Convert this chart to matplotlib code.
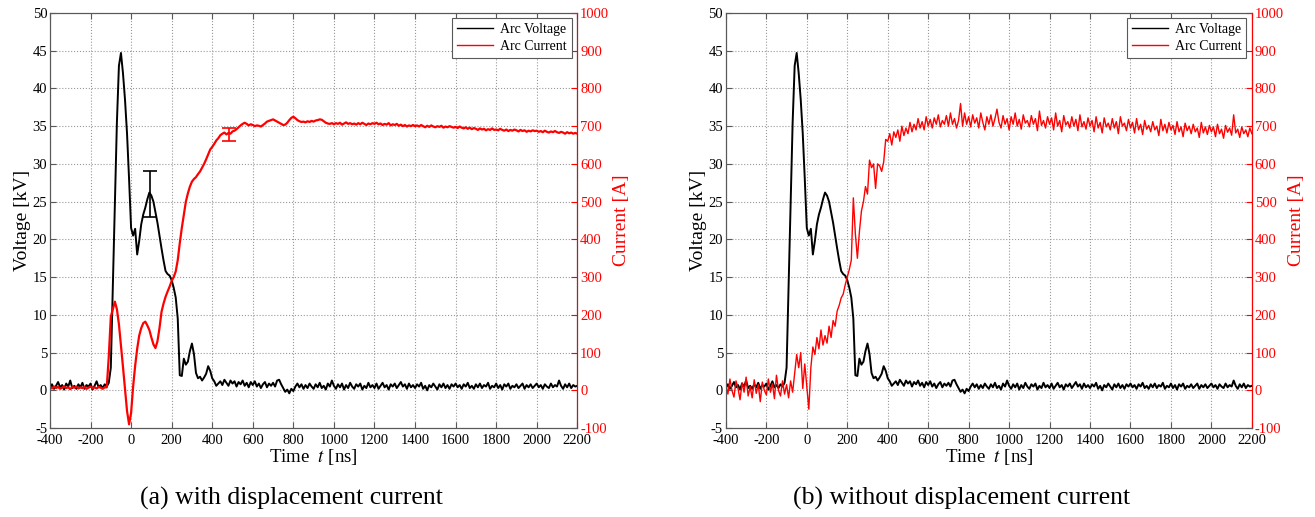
import numpy as np
import matplotlib.pyplot as plt

plt.rcParams['font.family'] = ['Liberation Serif', 'DejaVu Serif']
plt.rcParams['mathtext.fontset'] = 'stix'
plt.rcParams['axes.unicode_minus'] = False

# sampled every 10 ns starting at -400 ns
t_start = -400
t_step = 10

# arc voltage [kV] (same trace in both panels)
voltage_kv = [
    0.3, 0.8, 0.2, 0.6, 1.1, 0.4, 0.7, 0.1, 0.9, 0.5,       # -400
    1.3, 0.3, 0.6, 0.2, 0.8, 0.4, 1.0, 0.2, 0.7, 0.5,       # -300
    0.9, 0.1, 0.6, 1.2, 0.4, 0.7, 0.3, 0.8, 0.5, 1.0,       # -200
    3.0, 14.0, 25.0, 35.5, 43.0, 44.7, 42.0, 38.5, 34.0, 28.0,  # -100
    21.5, 20.5, 21.4, 18.0, 19.8, 22.0, 23.3, 24.2, 25.3, 26.2,  # 0
    25.8, 25.0, 23.6, 22.2, 20.5, 18.8, 17.2, 15.8, 15.4, 15.2,  # 100
    14.6, 13.6, 12.3, 9.5, 2.0, 1.9, 4.2, 3.4, 3.8, 5.2,    # 200
    6.2, 4.8, 2.3, 1.6, 1.8, 1.3, 1.7, 2.2, 3.2, 2.6,       # 300
    1.6, 1.2, 0.6, 0.9, 1.2, 0.7, 1.4, 1.0, 0.6, 1.3,       # 400
    0.9, 1.2, 0.5, 1.1, 0.8, 1.3, 0.6, 1.0, 0.4, 1.1,       # 500
    0.7, 1.2, 0.5, 0.9, 0.3, 0.8, 1.1, 0.4, 0.9, 0.6,       # 600
    1.0, 0.5, 1.3, 1.4, 0.8, 0.3, -0.2, 0.1, -0.4, 0.2,     # 700
    -0.1, 0.5, 0.9, 0.4, 0.8, 0.2, 0.7, 0.3, 0.9, 0.5,      # 800
    0.2, 0.8, 0.4, 1.0, 0.3, 0.6, 0.1, 0.9, 0.5, 1.3,       # 900
    0.6, 0.2, 0.8, 0.4, 0.9, 0.1, 0.7, 0.3, 1.0, 0.5,       # 1000
    0.2, 0.8, 0.5, 0.9, 0.1, 0.6, 0.3, 1.0, 0.4, 0.7,       # 1100
    0.3, 0.9, 0.2, 0.6, 1.0, 0.4, 0.7, 0.1, 0.8, 0.5,       # 1200
    0.9, 0.3, 0.7, 1.1, 0.5, 0.8, 0.2, 0.9, 0.4, 0.7,       # 1300
    0.3, 0.8, 0.5, 1.0, 0.2, 0.6, 0.0, 0.7, 0.4, 0.9,       # 1400
    0.5, 0.1, 0.8, 0.4, 0.9, 0.3, 0.7, 0.2, 0.8, 0.5,       # 1500
    0.9, 0.4, 0.7, 0.2, 0.8, 0.5, 1.0, 0.3, 0.6, 0.2,       # 1600
    0.8, 0.4, 0.9, 0.3, 0.7, 0.5, 1.0, 0.2, 0.6, 0.4,       # 1700
    0.9, 0.3, 0.7, 0.1, 0.8, 0.5, 0.9, 0.2, 0.6, 0.4,       # 1800
    0.8, 0.3, 0.6, 0.9, 0.2, 0.7, 0.4, 0.8, 0.3, 0.6,       # 1900
    0.9, 0.4, 0.7, 0.2, 0.8, 0.5, 0.3, 0.9, 0.4, 0.7,       # 2000
    0.5, 1.3, 0.6, 0.2, 0.8, 0.4, 0.9, 0.3, 0.7, 0.5,       # 2100
    0.6,                                                    # 2200
]

# arc current [A], (a) with displacement current
current_a = [
    8, 5, 10, 6, 9, 4, 7, 11, 6, 8,                # -400
    3, 9, 7, 10, 5, 8, 6, 9, 4, 7,                 # -300
    10, 6, 8, 5, 9, 7, 4, 8, 8, 90,                # -200
    195, 215, 235, 215, 175, 120, 62, 5, -55, -90,  # -100
    -60, 10, 65, 110, 145, 165, 178, 182, 172, 160,  # 0
    140, 122, 112, 130, 165, 208, 230, 248, 262, 275,  # 100
    290, 300, 315, 345, 390, 430, 465, 500, 522, 540,  # 200
    553, 560, 565, 573, 580, 590, 600, 612, 625, 638,  # 300
    645, 653, 662, 668, 676, 680, 683, 678, 682, 680,  # 400
    686, 688, 692, 697, 702, 706, 709, 706, 702, 705,  # 500
    703, 700, 702, 701, 699, 703, 707, 712, 714, 716,  # 600
    718, 715, 712, 709, 706, 703, 704, 709, 716, 722,  # 700
    725, 721, 716, 713, 711, 712, 710, 713, 711, 714,  # 800
    712, 715, 716, 718, 717, 713, 709, 707, 706, 708,  # 900
    705, 708, 706, 709, 704, 707, 710, 706, 708, 705,  # 1000
    707, 704, 708, 705, 709, 706, 703, 707, 705, 708,  # 1100
    706, 709, 705, 707, 703, 706, 704, 708, 702, 705,  # 1200
    703, 706, 701, 704, 700, 703, 699, 702, 700, 703,  # 1300
    700, 702, 699, 703, 700, 697, 701, 698, 702, 699,  # 1400
    697, 700, 698, 701, 696, 699, 697, 700, 698, 696,  # 1500
    698, 695, 699, 696, 694, 697, 693, 696, 692, 695,  # 1600
    693, 690, 694, 691, 693, 689, 692, 690, 694, 690,  # 1700
    691, 689, 693, 690, 688, 691, 687, 690, 688, 691,  # 1800
    689, 686, 690, 687, 689, 685, 688, 686, 689, 687,  # 1900
    688, 685, 687, 684, 688, 685, 683, 686, 684, 687,  # 2000
    684, 682, 685, 683, 680, 684, 681, 683, 680, 682,  # 2100
    680,                                               # 2200
]

# arc current [A], (b) without displacement current
current_b = [
    15, -10, 30, 0, -18, 25, 5, -25, 20, -5,           # -400
    35, -15, 10, -20, 28, -8, 15, -30, 22, 0,          # -300
    -12, 30, -5, 18, -22, 40, 0, -15, 25, -10,         # -200
    15, -20, 25, -5, 45, 95, 60, 100, 5, 70,           # -100
    10, -50, 60, 115, 95, 140, 110, 160, 120, 145,     # 0
    125, 170, 140, 185, 170, 210, 225, 245, 255, 280,  # 100
    300, 320, 345, 510, 415, 350, 420, 475, 500, 540,  # 200
    520, 610, 590, 600, 535, 600, 595, 580, 605, 665,  # 300
    660, 680, 650, 685, 670, 690, 660, 700, 675, 695,  # 400
    680, 710, 685, 705, 690, 720, 695, 712, 690, 725,  # 500
    700, 718, 695, 722, 705, 730, 698, 715, 705, 728,  # 600
    700, 735, 705, 720, 695, 715, 760, 700, 735, 705,  # 700
    725, 698, 730, 708, 722, 695, 735, 710, 690, 725,  # 800
    705, 730, 700, 720, 745, 710, 695, 728, 705, 720,  # 900
    690, 725, 705, 735, 700, 718, 692, 730, 708, 715,  # 1000
    698, 728, 705, 720, 688, 740, 702, 715, 695, 725,  # 1100
    705, 722, 690, 735, 700, 715, 685, 728, 703, 712,  # 1200
    695, 725, 700, 718, 688, 730, 698, 712, 692, 722,  # 1300
    700, 715, 685, 725, 695, 710, 682, 722, 698, 708,  # 1400
    690, 720, 695, 712, 680, 725, 700, 708, 688, 718,  # 1500
    695, 710, 682, 720, 690, 705, 678, 715, 692, 702,  # 1600
    685, 712, 690, 700, 675, 718, 688, 705, 682, 710,  # 1700
    690, 702, 678, 712, 685, 698, 672, 708, 688, 700,  # 1800
    680, 705, 685, 695, 670, 710, 682, 698, 678, 702,  # 1900
    685, 698, 672, 705, 680, 692, 668, 702, 684, 695,  # 2000
    676, 730, 682, 692, 670, 698, 680, 690, 672, 695,  # 2100
    680,                                               # 2200
]

# error bars shown in panel (a): (time, centre, half-range)
v_err = (94, 26.0, 3.0)
i_err = (481, 678, 18)

captions = ['(a) with displacement current', '(b) without displacement current']


def draw_panel(fig, rect, current, caption, cap_x, show_err, i_lw):
    t = t_start + t_step * np.arange(len(voltage_kv))
    ti = t_start + t_step * np.arange(len(current))

    ax = fig.add_axes(rect)
    ax2 = ax.twinx()

    lv, = ax.plot(t, voltage_kv, color='black', lw=1.4)
    li, = ax2.plot(ti, current, color='red', lw=i_lw)

    if show_err:
        ax.errorbar([v_err[0]], [v_err[1]], yerr=v_err[2], fmt='none',
                    ecolor='black', elinewidth=1.2, capsize=5, capthick=1.2)
        ax2.errorbar([i_err[0]], [i_err[1]], yerr=i_err[2], fmt='none',
                     ecolor='red', elinewidth=1.2, capsize=5, capthick=1.2)

    ax.set_xlim(-400, 2200)
    ax.set_ylim(-5, 50)
    ax2.set_ylim(-100, 1000)
    ax.set_xticks(np.arange(-400, 2201, 200))
    ax.set_yticks(np.arange(-5, 51, 5))
    ax2.set_yticks(np.arange(-100, 1001, 100))

    ax.grid(True, color='0.6', linestyle=':', linewidth=0.8)
    ax.tick_params(direction='in', length=4, labelsize=10.5, top=True,
                   color='0.35', pad=2)
    ax.tick_params(axis='x', pad=4)
    ax2.tick_params(direction='in', length=4, labelsize=10.5, colors='red',
                    pad=2)
    for s in ['left', 'top', 'bottom']:
        ax.spines[s].set_color('0.35')
        ax2.spines[s].set_color('0.35')
    ax2.spines['right'].set_color('red')

    ax.set_xlabel('Time  $t$ [ns]', fontsize=13.5, labelpad=0)
    ax.set_ylabel('Voltage [kV]', fontsize=14, labelpad=1)
    ax2.set_ylabel('Current [A]', fontsize=14, color='red', labelpad=3)

    leg = ax2.legend([lv, li], ['Arc Voltage', 'Arc Current'], loc='upper right',
                     fontsize=10, fancybox=False, edgecolor='0.35',
                     handlelength=2.6, borderaxespad=0.4, borderpad=0.35,
                     labelspacing=0.25, handletextpad=0.5, framealpha=1)
    leg.get_frame().set_linewidth(0.8)
    for h in leg.get_lines():
        h.set_linewidth(1.0)

    fig.text(cap_x, 0.035, caption, fontsize=18.5, ha='center', va='center')


fig = plt.figure(figsize=(13.15, 5.17), dpi=100)
draw_panel(fig, [0.038, 0.172, 0.401, 0.803], current_a, captions[0], 0.222, True, 1.6)
draw_panel(fig, [0.552, 0.172, 0.400, 0.803], current_b, captions[1], 0.731, False, 1.0)

fig.savefig('out.png', dpi=100)
